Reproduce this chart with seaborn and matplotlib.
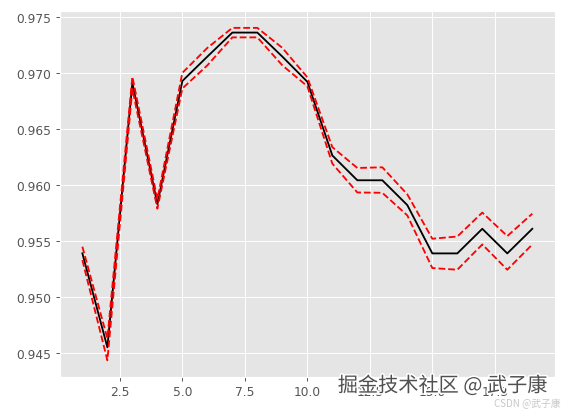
import numpy as np
import pandas as pd
import matplotlib
matplotlib.use("Agg")
import matplotlib.pyplot as plt
import matplotlib.patheffects as pe
import seaborn as sns

# k values and mean score with +/- one std band
k_values = list(range(1, 20))
mean_score = [0.95390, 0.94550, 0.96915, 0.95830, 0.96932, 0.97150, 0.97365, 0.97365,
              0.97150, 0.96925, 0.96266, 0.96044, 0.96044, 0.95822, 0.95390, 0.95390,
              0.95610, 0.95390, 0.95610]
upper_score = [0.95450, 0.94630, 0.96970, 0.95875, 0.97005, 0.97228, 0.97407, 0.97407,
               0.97228, 0.96965, 0.96340, 0.96154, 0.96160, 0.95918, 0.95521, 0.95541,
               0.95755, 0.95545, 0.95745]
lower_score = [0.95330, 0.94434, 0.96860, 0.95790, 0.96865, 0.97072, 0.97322, 0.97322,
               0.97072, 0.96885, 0.96193, 0.95935, 0.95932, 0.95730, 0.95259, 0.95244,
               0.95470, 0.95244, 0.95470]

df = pd.DataFrame({"k": k_values, "mean": mean_score,
                   "upper": upper_score, "lower": lower_score})

plt.style.use("ggplot")
fig, ax = plt.subplots(figsize=(6.42, 4.69), dpi=88)
fig.subplots_adjust(left=0.106, right=0.982, top=0.971, bottom=0.085)

sns.lineplot(data=df, x="k", y="mean", color="black", linewidth=1.5, ax=ax)
sns.lineplot(data=df, x="k", y="upper", color="red", linestyle="--", linewidth=1.5, ax=ax)
sns.lineplot(data=df, x="k", y="lower", color="red", linestyle="--", linewidth=1.5, ax=ax)
ax.set_xlabel("")
ax.set_ylabel("")

# watermark
fig.text(0.783, 0.063, "掘金技术社区 @ 武子康", fontsize=16.5, color="#505050",
         family=["Noto Sans CJK SC", "DejaVu Sans"], ha="center", va="center",
         path_effects=[pe.withStroke(linewidth=2.5, foreground="white")])
fig.text(0.992, 0.008, "CSDN @武子康", fontsize=8, color="#c8c8c8",
         family=["Noto Sans CJK SC", "DejaVu Sans"], ha="right", va="bottom")

plt.savefig("out.png", dpi=88)
